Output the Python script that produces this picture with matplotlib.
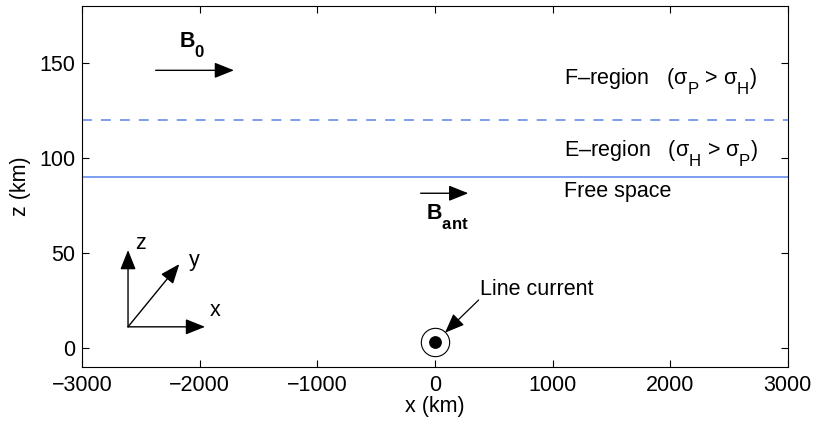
import matplotlib
matplotlib.use("Agg")
import matplotlib.pyplot as plt

plt.rcParams['font.family'] = ['Liberation Sans', 'DejaVu Sans']
plt.rcParams['mathtext.fontset'] = 'custom'
plt.rcParams['mathtext.rm'] = 'Liberation Sans'
plt.rcParams['mathtext.it'] = 'Liberation Sans'
plt.rcParams['mathtext.bf'] = 'Liberation Sans:bold'

# lower, slightly bigger subscripts (like the original figure)
try:
    from matplotlib import _mathtext
    _mathtext.FontConstantsBase.sub1 = 0.85
    _mathtext.FontConstantsBase.sub2 = 0.85
    _mathtext.SHRINK_FACTOR = 0.78
except Exception:
    pass

# boundaries (km)
e_bottom = 90
f_bottom = 120

# source position
src_x, src_z = 0, 3.2

x_ticks = [-3000, -2000, -1000, 0, 1000, 2000, 3000]
z_ticks = [0, 50, 100, 150]

# text labels and their baseline positions (data coords)
region_labels = ["F\u2013region   ($\\sigma_P$ > $\\sigma_H$)",
                 "E\u2013region   ($\\sigma_H$ > $\\sigma_P$)",
                 "Free space"]
region_x = [1097, 1097, 1097]
region_z = [138.6, 100.5, 79.3]

# arrows: (start, end)
b0_arrow = ((-2376, 146), (-1710, 146))
bant_arrow = ((-122, 81.3), (283, 81.3))
axes_origin = (-2611, 11)
axes_tips = {"x": (-1956, 11), "y": (-2175, 44), "z": (-2611, 51.4)}
axes_label_pos = {"x": (-1871, 19.5), "y": (-2047, 46), "z": (-2503, 55)}
lc_text_pos = (868, 30.7)
lc_arrow = ((371, 25.1), (85, 7.9))

fig = plt.figure(figsize=(8.14, 4.24), dpi=100)
ax = fig.add_axes([0.1011, 0.1351, 0.8666, 0.8514])

blue = '#5b82ee'
ax.axhline(f_bottom, color=blue, ls=(0, (6.5, 5.9)), lw=1.1)
ax.axhline(e_bottom, color=blue, lw=1.1)

fs = 15.5
for lab, x, z in zip(region_labels, region_x, region_z):
    ax.text(x, z, lab, fontsize=fs, va='baseline', ha='left')

arrow_kw = dict(arrowstyle='-|>,head_length=0.75,head_width=0.3', color='k', lw=1.0,
                shrinkA=0, shrinkB=0, mutation_scale=16)

ax.annotate('', xy=b0_arrow[1], xytext=b0_arrow[0], arrowprops=arrow_kw)
ax.text(-2177, 158, r'$\mathbf{B_0}$', fontsize=fs, ha='left', va='baseline')

ax.annotate('', xy=bant_arrow[1], xytext=bant_arrow[0], arrowprops=arrow_kw)
ax.text(-77, 67.2, r'$\mathbf{B_{ant}}$', fontsize=fs, ha='left', va='baseline')

for k in ["x", "y", "z"]:
    ax.annotate('', xy=axes_tips[k], xytext=axes_origin, arrowprops=arrow_kw)
    ax.text(*axes_label_pos[k], k, fontsize=fs, ha='center', va='center')

# line current
ax.plot(src_x, src_z, 'o', color='k', ms=8.2)
ax.plot(src_x, src_z, 'o', mfc='none', mec='k', mew=0.8, ms=20.4)
ax.text(*lc_text_pos, 'Line current', fontsize=fs, ha='center', va='center')
ax.annotate('', xy=lc_arrow[1], xytext=lc_arrow[0],
            arrowprops=dict(arrow_kw, lw=0.9))

ax.set_xlim(-3000, 3000)
ax.set_ylim(-10, 180)
ax.set_xticks(x_ticks)
ax.set_yticks(z_ticks)
ax.set_xticklabels([str(t).replace('-', '\u2212') for t in x_ticks])
ax.tick_params(direction='in', labelsize=fs, length=5, top=True, right=True)
ax.tick_params(axis='x', pad=6)
ax.tick_params(axis='y', pad=5)
ax.set_xlabel('x (km)', fontsize=fs, labelpad=0)
ax.set_ylabel('z (km)', fontsize=fs, labelpad=6)

fig.savefig('out.png', dpi=100)
